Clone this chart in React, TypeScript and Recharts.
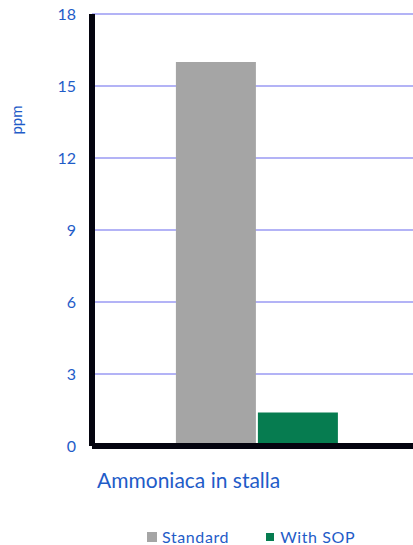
import { BarChart, Bar, XAxis, YAxis, CartesianGrid, Legend } from 'recharts';

const categories = ['Ammoniaca in stalla'];
const standardValues = [16];
const withSopValues = [1.4];
const yTicks = [0, 3, 6, 9, 12, 15, 18];

const data = categories.map((name, i) => ({
  name,
  standard: standardValues[i],
  withSop: withSopValues[i],
}));

const FONT = 'Lato, "Open Sans", sans-serif';
const BLUE = '#1F5CC8';
const GRAY = '#A5A5A5';
const GREEN = '#067C50';

// legend squares are not the same size in the original layout
const swatchSize: Record<string, number> = { standard: 10, withSop: 8 };

function LegendContent(props: any) {
  const items = props.payload || [];
  return (
    <div style={{ display: 'flex', alignItems: 'center', height: 16, paddingLeft: 147, fontFamily: FONT }}>
      {items.map((it: any, i: number) => (
        <div key={it.dataKey} style={{ display: 'flex', alignItems: 'center', marginRight: i === 0 ? 37 : 0 }}>
          <span
            style={{
              width: swatchSize[it.dataKey],
              height: swatchSize[it.dataKey],
              background: it.color,
              marginRight: i === 0 ? 5 : 6,
            }}
          />
          <span style={{ color: BLUE, fontSize: 16, letterSpacing: 0.6, lineHeight: '16px' }}>{it.value}</span>
        </div>
      ))}
    </div>
  );
}

export default function App() {
  return (
    <div style={{ position: 'absolute', left: 0, top: 0, width: 413, height: 545, overflow: 'hidden', background: '#fff' }}>
      <BarChart
        width={421}
        height={545}
        data={data}
        margin={{ top: 14, right: 0, left: 0, bottom: 0 }}
        barCategoryGap="25.5%"
        barGap={2}
      >
        <CartesianGrid vertical={false} stroke="#B3B3F6" strokeWidth={2} />
        <XAxis
          dataKey="name"
          height={83}
          tick={false}
          tickLine={false}
          axisLine={{ stroke: '#04040F', strokeWidth: 6 }}
          label={{
            content: (p: any) => (
              <text
                x={p.viewBox.x + 5}
                y={p.viewBox.y + 42}
                fill={BLUE}
                fontSize={21}
                fontFamily={FONT}
              >
                {categories[0]}
              </text>
            ),
          }}
        />
        <YAxis
          width={92}
          domain={[0, 18]}
          ticks={yTicks}
          interval={0}
          tickSize={0}
          tickMargin={16}
          tickLine={false}
          axisLine={{ stroke: '#04040F', strokeWidth: 6 }}
          tick={{ fill: BLUE, fontSize: 16, fontFamily: FONT }}
          label={{
            content: (p: any) => (
              <text
                x={p.viewBox.x + 22}
                y={p.viewBox.y + 106}
                fill={BLUE}
                fontSize={15}
                fontFamily={FONT}
                textAnchor="middle"
                transform={`rotate(-90 ${p.viewBox.x + 22} ${p.viewBox.y + 106})`}
              >
                ppm
              </text>
            ),
          }}
        />
        <Legend verticalAlign="bottom" height={16} content={LegendContent} wrapperStyle={{ left: 0, width: 413 }} />
        <Bar dataKey="standard" name="Standard" fill={GRAY} isAnimationActive={false} />
        <Bar dataKey="withSop" name="With SOP" fill={GREEN} isAnimationActive={false} />
      </BarChart>
    </div>
  );
}
